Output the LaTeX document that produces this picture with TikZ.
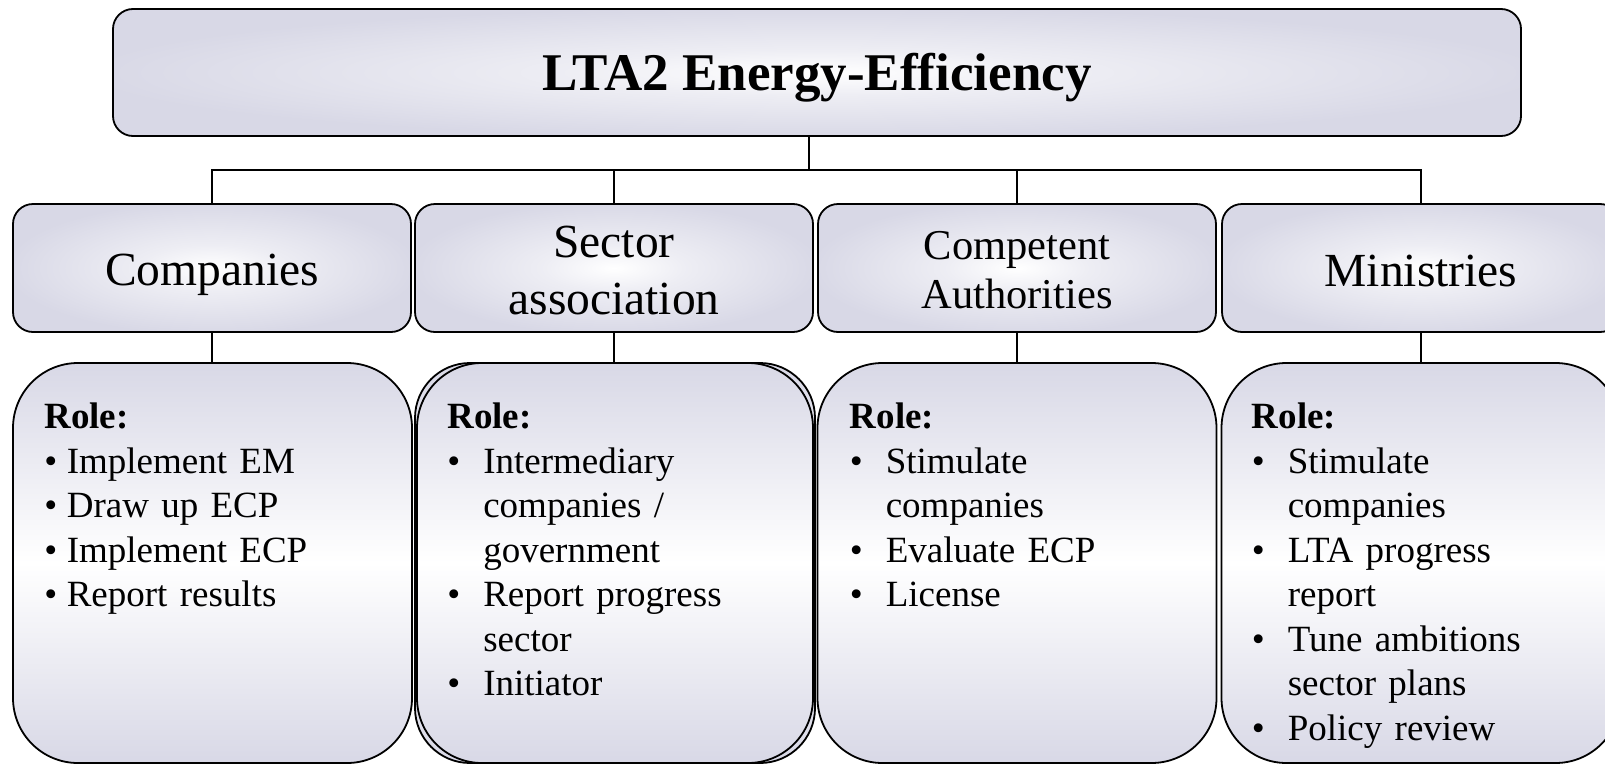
\documentclass[tikz,border=0pt]{standalone}
\usepackage{fontspec}
\setmainfont{Liberation Serif}
\usetikzlibrary{calc}
\definecolor{lav}{RGB}{216,216,230}
\colorlet{glowmid}{white!55!lav}
\pgfdeclareradialshading{softglow}{\pgfpoint{0bp}{0bp}}{color(0bp)=(white); color(9bp)=(glowmid); color(26bp)=(lav); color(50bp)=(lav)}
\newcommand\rolehead{\noindent\textbf{Role:}\par}
\newcommand\plainbul[1]{\noindent\makebox[22.5pt][l]{\textbullet}#1\par}
\newcommand\bul[1]{\hangindent=36pt\hangafter=1\noindent\makebox[36pt][l]{\textbullet}#1\par}
\tikzset{
  headbox/.style={draw, line width=1.8pt, rounded corners=20pt, inner sep=0pt, shading=softglow, minimum width=398pt, minimum height=128pt},
  lowbox/.style={draw, line width=1.8pt, rounded corners=65pt, inner sep=0pt, top color=lav, bottom color=lav, middle color=white, minimum width=399pt, minimum height=400pt},
  headtext/.style={font=\fontsize{47.5}{57}\selectfont, align=center, inner sep=0pt},
  roletext/.style={font=\fontsize{37}{44.5}\selectfont, text width=360pt, align=left, inner sep=0pt, anchor=north west},
  link/.style={line width=1.8pt}
}
\begin{document}
\begin{tikzpicture}[x=1pt,y=-1pt]
\useasboundingbox (0,0) rectangle (1605,763);
\clip (0,0) rectangle (1605,763);
% top
\node[headbox, minimum width=1408pt, minimum height=127pt] (top) at (817,72.5) {};
\node[font=\fontsize{53}{60}\selectfont\bfseries, inner sep=0pt] (toptext) at ([yshift=-5pt]top.center) {LTA2 Energy-Efficiency};
% second row
\node[headbox] (c2) at (212,268) {};
\node[headbox] (s2) at (614,268) {};
\node[headbox] (a2) at (1017,268) {};
\node[headbox] (m2) at (1421,268) {};
\node[headtext] (c2t) at ([yshift=-7pt]c2.center) {Companies};
\node[headtext] (s2t) at ([yshift=-3pt]s2.center) {Sector\\association};
\node[headtext, font=\fontsize{42.5}{49}\selectfont] (a2t) at ([yshift=-2pt]a2.center) {Competent\\Authorities};
\node[headtext] (m2t) at ([yshift=-3pt]m2.center) {Ministries};
% connectors top
\coordinate (hb) at (809,170);
\draw[link] (top.south -| hb) -- (hb);
\draw[link] (c2.north) -- (c2.north |- hb) -- (m2.north |- hb) -- (m2.north);
\draw[link] (s2.north) -- (s2.north |- hb);
\draw[link] (a2.north) -- (a2.north |- hb);
% third row
\node[lowbox] (c3) at (212.5,563) {};
\node[lowbox, minimum width=400pt, rounded corners=55pt] (s3b) at (615,563) {};
\node[lowbox, minimum width=396pt] (s3) at (615,563) {};
\node[lowbox] (a3) at (1017,563) {};
\node[lowbox] (m3) at (1421,563) {};
% connectors lower
\draw[link] (c2.south) -- (c2.south |- c3.north);
\draw[link] (s2.south) -- (s2.south |- s3.north);
\draw[link] (a2.south) -- (a2.south |- a3.north);
\draw[link] (m2.south) -- (m2.south |- m3.north);
% texts
\node[roletext] (c3t) at ([xshift=32pt,yshift=-41pt]c3.north west) {\rolehead
\plainbul{Implement EM}
\plainbul{Draw up ECP}
\plainbul{Implement ECP}
\plainbul{Report results}};
\node[roletext] (s3t) at ([xshift=31pt,yshift=-41pt]s3.north west) {\rolehead
\bul{Intermediary\newline companies /\newline government}
\bul{Report progress\newline sector}
\bul{Initiator}};
\node[roletext] (a3t) at ([xshift=33pt,yshift=-41pt]a3.north west) {\rolehead
\bul{Stimulate\newline companies}
\bul{Evaluate ECP}
\bul{License}};
\node[roletext] (m3t) at ([xshift=31pt,yshift=-41pt]m3.north west) {\rolehead
\bul{Stimulate\newline companies}
\bul{LTA progress\newline report}
\bul{Tune ambitions\newline sector plans}
\bul{Policy review}};
\end{tikzpicture}
\end{document}
